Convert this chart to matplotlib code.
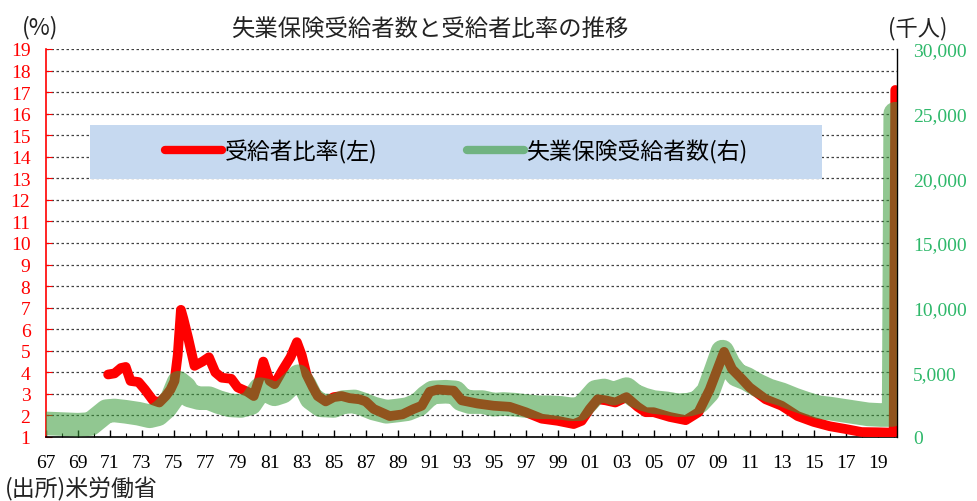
import matplotlib
matplotlib.use('Agg')
import matplotlib.pyplot as plt
from matplotlib.lines import Line2D
from matplotlib.patches import Rectangle
from matplotlib.ticker import FixedLocator, FuncFormatter

JP = ['Noto Sans CJK JP', 'DejaVu Sans']
NUM = 'Liberation Serif'

# 受給者比率 (%), left axis
ratio_x = [1970.9, 1971.3, 1971.7, 1972.0, 1972.3, 1972.8, 1973.2, 1973.7, 1974.1, 1974.5,
           1974.8, 1975.05, 1975.25, 1975.45, 1975.6, 1975.9, 1976.3, 1976.8, 1977.2, 1977.6,
           1978.0, 1978.6, 1979.0, 1979.6, 1980.0, 1980.35, 1980.6, 1981.0, 1981.3, 1981.8,
           1982.3, 1982.7, 1983.0, 1983.3, 1983.7, 1984.0, 1984.5, 1985.0, 1985.5, 1986.0,
           1986.6, 1987.0, 1987.5, 1988.5, 1989.3, 1990.0, 1990.5, 1991.0, 1991.5, 1992.5,
           1993.0, 1994.0, 1995.0, 1996.0, 1997.0, 1998.0, 1999.0, 2000.0, 2000.5, 2001.0,
           2001.5, 2002.0, 2002.6, 2003.3, 2004.0, 2004.5, 2005.0, 2006.0, 2007.0, 2007.8,
           2008.5, 2009.4, 2009.9, 2010.5, 2011.0, 2012.0, 2013.0, 2014.0, 2015.0, 2016.0,
           2017.0, 2018.0, 2019.0, 2020.0, 2020.1]
ratio_y = [3.9, 3.95, 4.2, 4.25, 3.6, 3.55, 3.2, 2.7, 2.6, 2.9,
           3.2, 3.6, 4.8, 6.9, 6.5, 5.6, 4.3, 4.5, 4.7, 4.0,
           3.75, 3.7, 3.3, 3.1, 2.9, 3.7, 4.5, 3.6, 3.45, 4.1,
           4.7, 5.4, 4.8, 3.9, 3.3, 2.9, 2.65, 2.85, 2.9, 2.8,
           2.75, 2.65, 2.3, 1.97, 2.05, 2.3, 2.45, 3.1, 3.2, 3.15,
           2.7, 2.55, 2.45, 2.4, 2.15, 1.85, 1.75, 1.6, 1.75, 2.3,
           2.75, 2.7, 2.6, 2.85, 2.4, 2.15, 2.15, 1.93, 1.78, 2.15,
           3.2, 4.95, 4.15, 3.7, 3.3, 2.75, 2.45, 1.97, 1.7, 1.5,
           1.37, 1.23, 1.22, 1.2, 17.1]

# 失業保険受給者数 (千人), right axis
claims_x = [1967.0, 1968.0, 1969.0, 1969.8, 1970.3, 1970.8, 1971.3, 1972.0, 1972.8, 1973.5,
            1974.0, 1974.5, 1974.9, 1975.3, 1975.7, 1976.0, 1976.6, 1977.2, 1977.8, 1978.5,
            1979.2, 1979.8, 1980.4, 1980.8, 1981.3, 1981.8, 1982.4, 1982.8, 1983.2, 1983.6,
            1984.2, 1985.0, 1985.6, 1986.3, 1986.9, 1987.5, 1988.3, 1989.0, 1989.6, 1990.3,
            1990.8, 1991.2, 1992.0, 1992.6, 1993.0, 1993.5, 1994.3, 1995.0, 1995.6, 1996.3,
            1997.0, 1997.8, 1998.5, 1999.2, 1999.8, 2000.4, 2000.9, 2001.4, 2001.9, 2002.5,
            2003.3, 2003.8, 2004.4, 2005.0, 2005.8, 2006.5, 2007.2, 2007.8, 2008.4, 2008.9,
            2009.3, 2009.7, 2010.2, 2010.8, 2011.5, 2012.2, 2013.0, 2013.8, 2014.5, 2015.3,
            2016.0, 2016.8, 2017.6, 2018.4, 2019.2, 2019.9, 2020.0, 2020.1]
claims_y = [1050, 1000, 950, 1000, 1500, 2000, 2050, 1950, 1800, 1600,
            1750, 2300, 3000, 4200, 3800, 3200, 3000, 3000, 2700, 2450,
            2400, 2600, 3700, 3600, 3300, 3500, 4200, 4700, 4000, 3000,
            2450, 2400, 2700, 2750, 2500, 2200, 1950, 2050, 2150, 2500,
            3100, 3450, 3500, 3450, 2900, 2700, 2700, 2500, 2550, 2500,
            2400, 2300, 2300, 2250, 2150, 2150, 2800, 3500, 3600, 3350,
            3700, 3200, 2900, 2700, 2600, 2450, 2500, 2700, 3500, 5200,
            6600, 5600, 4800, 4500, 4000, 3600, 3300, 2900, 2600, 2300,
            2200, 2050, 1900, 1750, 1700, 1700, 1750, 25000]

year_labels = list(range(1967, 2020, 2))
left_ticks = list(range(1, 20))
right_ticks = [0, 5000, 10000, 15000, 20000, 25000, 30000]

RED = '#FF0000'
GREEN = '#379A37'
GREEN_TXT = '#2EB86A'

fig = plt.figure(figsize=(9.77, 5.02), dpi=100)
ax = fig.add_axes([0.0468, 0.1275, 0.871, 0.7729])
ax2 = ax.twinx()

ax.plot(ratio_x, ratio_y, color=RED, lw=7, solid_capstyle='round', solid_joinstyle='round', zorder=3)
ax2.plot(claims_x, claims_y, color=GREEN, alpha=0.55, lw=17, solid_capstyle='round',
         solid_joinstyle='round', zorder=3)

ax.set_xlim(1967, 2020.19)
ax.set_ylim(1, 19)
ax2.set_ylim(0, 30000)

ax.xaxis.set_major_locator(FixedLocator(year_labels))
ax.xaxis.set_minor_locator(FixedLocator(list(range(1967, 2021))))
ax.xaxis.set_major_formatter(FuncFormatter(lambda v, p: f"{int(round(v)) % 100:02d}"))
ax.tick_params(axis='x', which='major', direction='in', length=5, width=1, pad=12,
               labelsize=14, colors='black')
ax.tick_params(axis='x', which='minor', direction='in', length=3, width=0.8)

ax.set_yticks(left_ticks)
ax.tick_params(axis='y', direction='in', length=4, color=RED, labelcolor=RED, labelsize=14, pad=11)
ax.yaxis.grid(True, linestyle=(0, (2, 2)), color='#404040', lw=0.9)

ax2.set_yticks(right_ticks)
ax2.yaxis.set_major_formatter(FuncFormatter(lambda v, p: f"{int(v):,}"))
ax2.tick_params(axis='y', length=0, labelcolor=GREEN_TXT, labelsize=14, pad=12)

for lab in ax.get_xticklabels() + ax.get_yticklabels() + ax2.get_yticklabels():
    lab.set_fontfamily(NUM)

ax.spines['top'].set_visible(False)
ax.spines['right'].set_visible(False)
ax.spines['left'].set_color(RED)
ax.spines['left'].set_linewidth(1.2)
ax.spines['bottom'].set_linewidth(1.2)
ax2.spines['top'].set_visible(False)
ax2.spines['left'].set_visible(False)
ax2.spines['bottom'].set_visible(False)
ax2.spines['right'].set_linewidth(1.0)

# legend background band
ax2.add_patch(Rectangle((0.052, 0.665), 0.86, 0.139, transform=ax2.transAxes,
                        facecolor='#C6D9F0', edgecolor='none', zorder=4))
handles = [
    Line2D([], [], color=RED, lw=6, solid_capstyle='round'),
    Line2D([], [], color=GREEN, alpha=0.6, lw=6, solid_capstyle='round'),
]
leg = ax2.legend(handles, ['受給者比率(左)', '失業保険受給者数(右)'], ncol=2, frameon=False,
                 loc='center left', bbox_to_anchor=(0.14, 0.737), borderpad=0, borderaxespad=0,
                 handlelength=2.5, handletextpad=0.1, columnspacing=3.9,
                 prop={'family': JP, 'size': 16.5})
leg.set_zorder(5)

fig.text(0.44, 0.94, '失業保険受給者数と受給者比率の推移', ha='center', va='center',
         fontsize=16.8, family=JP, color='#222222')
fig.text(0.0225, 0.946, '(%)', ha='left', va='center', fontsize=16.5, family=JP, color='#222222')
fig.text(0.909, 0.944, '(千人)', ha='left', va='center', fontsize=16, family=JP, color='#222222')
fig.text(0.005, 0.026, '(出所)米労働省', ha='left', va='center', fontsize=16.5, family=JP,
         color='#222222')

fig.savefig('out.png', dpi=100)
